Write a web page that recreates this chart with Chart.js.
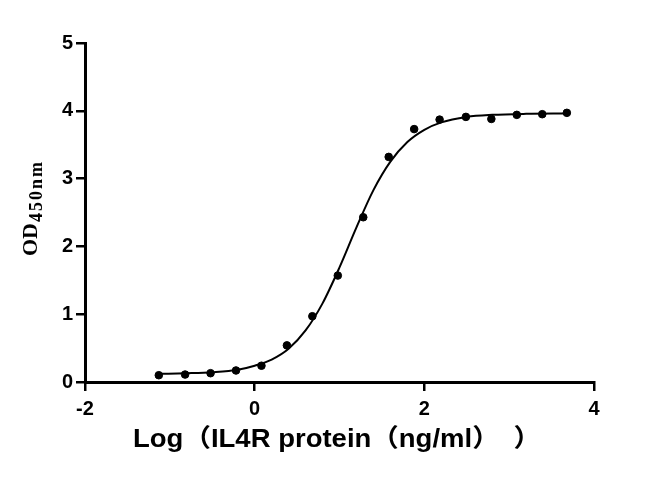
<!DOCTYPE html>
<html>
<head>
<meta charset="utf-8">
<script src="https://cdn.jsdelivr.net/npm/chart.js@4.4.1/dist/chart.umd.min.js"></script>
<style>
  html, body { margin: 0; padding: 0; background: #fff; }
  #wrap { width: 655px; height: 481px; }
</style>
</head>
<body>
<div id="wrap"><canvas id="elisa" width="655" height="481"></canvas></div>
<script>
// measured points: log10 of 2-fold dilutions, OD450
const logConc = [-1.13, -0.82, -0.52, -0.22, 0.08, 0.38, 0.68, 0.98, 1.28, 1.58, 1.88, 2.18, 2.49, 2.79, 3.09, 3.39, 3.68];
const odValues = [0.10, 0.11, 0.13, 0.17, 0.24, 0.54, 0.97, 1.57, 2.43, 3.32, 3.73, 3.87, 3.91, 3.88, 3.94, 3.95, 3.97];

// fitted curve
const curveX = [-1.13, -0.8, -0.5, -0.2, 0, 0.2, 0.4, 0.6, 0.8, 1.0, 1.2, 1.4, 1.6, 1.8, 2.0, 2.2, 2.5, 2.8, 3.2, 3.68];
const curveY = [0.12, 0.13, 0.145, 0.18, 0.24, 0.33, 0.49, 0.76, 1.16, 1.69, 2.28, 2.83, 3.25, 3.54, 3.72, 3.83, 3.91, 3.94, 3.955, 3.96];

const xTicks = [-2, 0, 2, 4];
const yTicks = [0, 1, 2, 3, 4, 5];

const tickFont = { family: '"Liberation Sans", Arial, sans-serif', size: 20, weight: 'bold' };

// axis titles drawn by hand (subscript + full-width brackets)
const axisTitles = {
  id: 'axisTitles',
  afterDraw(chart) {
    const ctx = chart.ctx;
    ctx.save();
    ctx.fillStyle = '#000';

    // x title (source text is a bit wide, stretch it)
    ctx.save();
    ctx.translate(133, 447);
    ctx.scale(1.1, 1);
    ctx.font = 'bold 25px "Liberation Sans", "Noto Sans CJK SC", sans-serif';
    ctx.textAlign = 'left';
    ctx.textBaseline = 'alphabetic';
    ctx.fillText('Log（IL4R protein（ng/ml）\u3000）', 0, 0);
    ctx.restore();

    // y title, rotated
    ctx.translate(37, 256);
    ctx.rotate(-Math.PI / 2);
    ctx.font = 'bold 22px "Liberation Serif", "Times New Roman", serif';
    ctx.fillText('OD', 0, 0);
    const w = ctx.measureText('OD').width;
    ctx.font = 'bold 18px "Liberation Serif", "Times New Roman", serif';
    ctx.letterSpacing = '2px';
    ctx.fillText('450nm', w + 1, 5);
    ctx.restore();
  }
};

const ctx = document.getElementById('elisa').getContext('2d');
const elisaChart = new Chart(ctx, {
  type: 'scatter',
  data: {
    datasets: [
      {
        label: 'fit',
        data: curveX.map((x, i) => ({ x: x, y: curveY[i] })),
        showLine: true,
        borderColor: '#000',
        borderWidth: 2,
        pointRadius: 0,
        cubicInterpolationMode: 'monotone',
        fill: false
      },
      {
        label: 'OD450',
        data: logConc.map((x, i) => ({ x: x, y: odValues[i] })),
        backgroundColor: '#000',
        borderColor: '#000',
        pointRadius: 3.8,
        pointHoverRadius: 3.8
      }
    ]
  },
  options: {
    responsive: false,
    animation: false,
    layout: { padding: { left: 0, right: 61, top: 43, bottom: 0 } },
    plugins: {
      legend: { display: false },
      tooltip: { enabled: false }
    },
    scales: {
      x: {
        type: 'linear',
        min: -2,
        max: 4,
        afterBuildTicks: (scale) => { scale.ticks = xTicks.map(v => ({ value: v })); },
        afterFit: (scale) => { scale.height = 99; },
        ticks: { color: '#000', font: tickFont, padding: 6 },
        grid: {
          drawOnChartArea: false,
          drawTicks: true,
          tickLength: 9,
          color: '#000',
          lineWidth: 2.5
        },
        border: { display: true, color: '#000', width: 3 }
      },
      y: {
        min: 0,
        max: 5,
        afterBuildTicks: (scale) => { scale.ticks = yTicks.map(v => ({ value: v })); },
        afterFit: (scale) => { scale.width = 85; },
        ticks: { color: '#000', font: tickFont, padding: 3 },
        grid: {
          drawOnChartArea: false,
          drawTicks: true,
          tickLength: 9,
          color: '#000',
          lineWidth: 2.5
        },
        border: { display: true, color: '#000', width: 3 }
      }
    }
  },
  plugins: [axisTitles]
});
</script>
</body>
</html>
